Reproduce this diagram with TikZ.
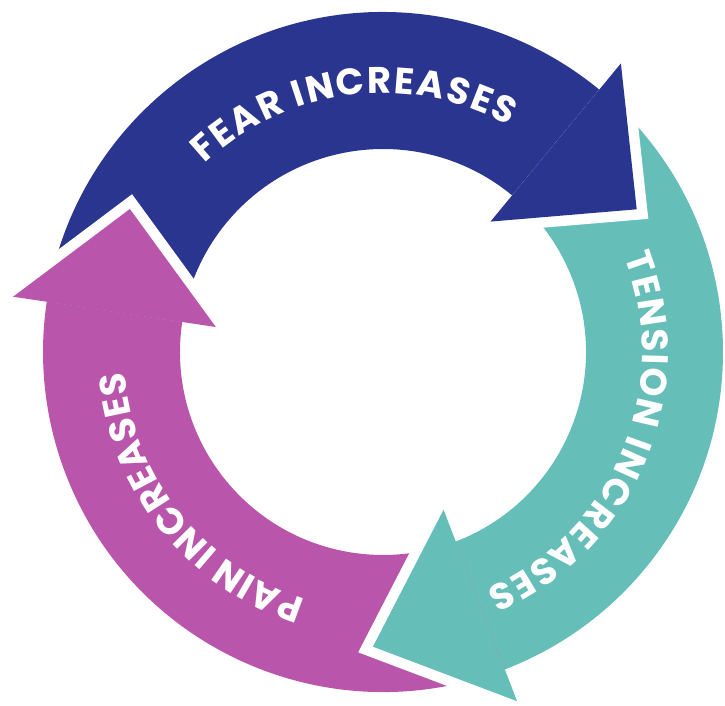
\documentclass[tikz,border=0pt]{standalone}
\usepackage{fontspec}
\newfontfamily\lblfont{Poppins}
\usetikzlibrary{calc,decorations.text}
\definecolor{fearblue}{HTML}{2A3590}
\definecolor{tensionteal}{HTML}{65BEB8}
\definecolor{painpink}{HTML}{B956AB}
\newcommand\lblstyle{\lblfont\bfseries\fontsize{37}{37}\selectfont}
\begin{document}
\begin{tikzpicture}[x=1pt,y=1pt,
  gapline/.style={white, line width=21pt, line join=miter},
  cycletext/.style={decorate, decoration={text along path, text align=fit to path, text color=white, text={|\lblstyle|#1}}}]
\useasboundingbox (0,0) rectangle (725,706);
\coordinate (C) at (383,354);
% ring radii and barb radii
\def\Ro{340}\def\Ri{203}\def\Rm{271.5}\def\Bo{374}\def\Bi{169}\def\Rt{259}
% shaft of one arrow: colour, start angle, end angle (clockwise)
\newcommand\ringshaft[3]{%
  \fill[#1] ($(C)+(#2:\Ro)$) arc[start angle=#2, end angle=#3, radius=\Ro]
    -- ($(C)+(#3:\Ri)$) arc[start angle=#3, end angle=#2, radius=\Ri] -- cycle;}
% head of one arrow: name, colour, base angle, head length
\newcommand\ringhead[4]{%
  \coordinate (#1Out) at ($(C)+(#3:\Bo)$);
  \coordinate (#1In) at ($(C)+(#3:\Bi)$);
  \coordinate (#1Tip) at ($(C)+(#3:\Rm)+(#3-90:#4)$);
  \draw[gapline] (#1Out) -- (#1Tip) -- (#1In);
  \fill[#2] (#1Out) -- (#1Tip) -- (#1In) -- cycle;}

\ringshaft{fearblue}{171.5}{50.5}
\ringshaft{tensionteal}{50.5}{-69}
\ringshaft{painpink}{291}{171.5}

\ringhead{pain}{painpink}{171.5}{104}
\ringhead{fear}{fearblue}{50.5}{105}
\ringhead{tension}{tensionteal}{291}{115}

\path[cycletext={FEAR INCREASES}] ($(C)+(133.5:\Rt)$) arc[start angle=133.5, end angle=61, radius=\Rt];
\path[cycletext={TENSION INCREASES}] ($(C)+(21.5:\Rt)$) arc[start angle=21.5, end angle=-66.5, radius=\Rt];
\path[cycletext={PAIN INCREASES}] ($(C)+(252.5:\Rt)$) arc[start angle=252.5, end angle=184.5, radius=\Rt];
\end{tikzpicture}
\end{document}
